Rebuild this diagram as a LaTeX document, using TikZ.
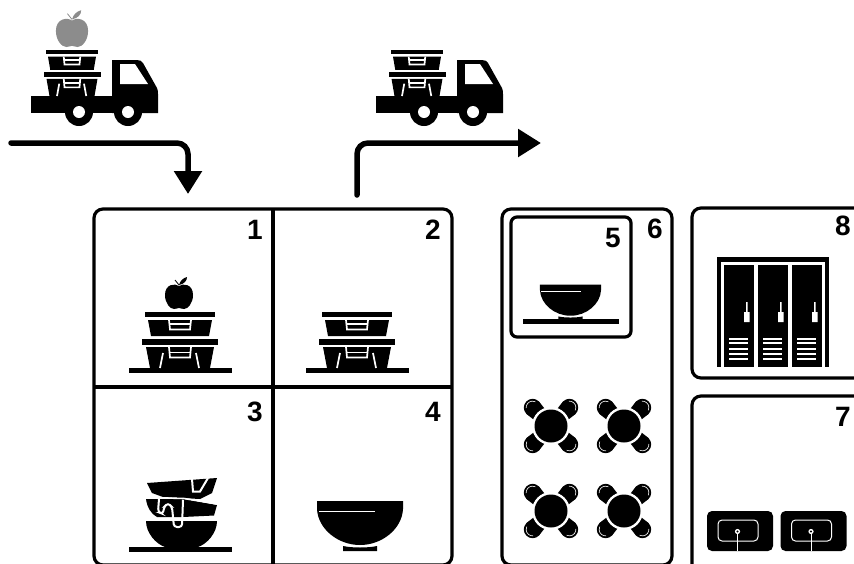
\documentclass[tikz,border=0pt]{standalone}
\usepackage{fontspec}
\setmainfont{Liberation Sans}
\usetikzlibrary{arrows.meta, positioning}

\tikzset{
    pics/apple/.style={code={
        \fill[#1] (0,-23) .. controls (4,-26) and (14,-25) .. (14,-14) .. controls (14,-6) and (9,0) .. (5,0) .. controls (3,0) and (1,-1) .. (0,-1) .. controls (-1,-1) and (-3,0) .. (-5,0) .. controls (-9,0) and (-14,-6) .. (-14,-14) .. controls (-14,-25) and (-4,-26) .. cycle;
        \fill[#1] (0,-24) .. controls (1,-28) and (4,-31) .. (8,-32) .. controls (8,-28) and (5,-25) .. cycle;
        \draw[#1, line width=.8pt] (0,-24) -- (-4,-29);
    }},
    pics/apple/.default=black,
    pics/crates/.style={code={
        \fill (-35,-56) rectangle (35,-51);
        \fill (-32,-48) -- (32,-48) -- (29,-32) -- (-29,-32) -- cycle;
        \draw[trim] (-11,-48) -- (-10,-38.5) -- (10,-38.5) -- (11,-48);
        \draw[trim] (-10,-44) -- (10,-44);
        \fill (-38,-29) rectangle (38,-23.5);
        \fill (-34,-21) -- (34,-21) -- (30,0) -- (-30,0) -- cycle;
        \draw[trim] (-11,-21) -- (-10,-10.5) -- (10,-10.5) -- (11,-21);
        \draw[trim] (-10,-15.5) -- (10,-15.5);
        \draw[trim] (-17,-15) -- (-20,0);
        \draw[trim] (16,-15) -- (19,0);
    }},
    pics/truck/.style={code={
        \fill (0,0) rectangle (81,17);
        \fill (81,17) -- (81,-36) -- (106,-36) .. controls (109,-36) and (111,-35) .. (112,-33) -- (126,-8) .. controls (127,-6) and (127,-4) .. (127,-2) -- (127,17) -- cycle;
        \fill[white] (89,-32) -- (104,-32) -- (117,-12) -- (89,-12) -- cycle;
        \foreach \wheelx in {48,97} {
            \fill (\wheelx,16) circle (14);
            \fill[white] (\wheelx,16) circle (6);
        }
        \pic[xscale=.75, yscale=.82] at (41,0) {crates};
    }},
    pics/bowl/.style={code={
        \fill (-43,-50) -- (43,-50) -- (43,-42) .. controls (42,-22) and (22,-6) .. (0,-6) .. controls (-22,-6) and (-42,-22) .. (-43,-42) -- cycle;
        \fill (-17,-5) .. controls (-8,-3) and (8,-3) .. (17,-5) -- (17,0) -- (-17,0) -- cycle;
        \draw[white, line width=.7pt] (-41,-40) -- (15,-40);
    }},
    pics/dishes/.style={code={
        \fill (-33,-64) -- (37,-69) -- (32,-54) -- (20,-48) -- (-17,-50) -- (-28,-54) -- cycle;
        \draw[trim, line width=2pt] (12,-68) -- (13,-55.5) -- (20,-55.5) -- (28,-69);
        \fill (-34,-48) -- (4,-48) -- (37,-42) -- (34,-31.5) -- (3,-30) -- (-23,-30) .. controls (-29,-33) and (-33,-40) .. cycle;
        \draw[trim, line width=1.6pt] (-30,-49.5) -- (4,-48.5) -- (37,-43);
        \fill (-34,-26) -- (37,-26) .. controls (37,-14) and (27,-3) .. (18,0) -- (-15,0) .. controls (-24,-3) and (-34,-14) .. cycle;
        \draw[trim, line width=2pt, rounded corners=3pt] (-21,-48) -- (-22,-35) -- (-17,-33) -- (-16,-40) -- (-12,-44) -- (-8,-40) -- (-6,-20) -- (2,-20) -- (3,-47);
    }},
    pics/dining/.style={code={
        \foreach \chairang in {45,135,225,315} {
            \fill[rotate=\chairang] (10,-7) -- (26,-8.8) -- (26,8.8) -- (10,7) -- cycle;
            \fill[rotate=\chairang] (26,0) circle (8.8);
            \draw[white, line width=.6pt, rotate=\chairang] (26,0) ++(-50:6.5) arc (-50:70:6.5);
        }
        \fill[white] (0,0) circle (19);
        \fill (0,0) circle (16.5);
    }},
    pics/locker/.style={code={
        \fill (0,0) rectangle (29.5,102);
        \fill[white] (22,37) rectangle (23.5,47) (20,47) rectangle (25.5,57);
        \foreach \venty in {72.5,77,82.5,87.5,92.5} {
            \fill[white] (5,\venty) rectangle (24,\venty+2.2);
        }
    }},
    pics/sink/.style={code={
        \fill[rounded corners=5pt] (0,0) rectangle (66,40);
        \draw[white, line width=1pt, rounded corners=4pt] (11,9) rectangle (51,30);
        \draw[white, line width=1pt] (30.5,23) -- (30.5,40);
        \fill[white] (30.5,20.5) circle (2.6);
        \fill (30.5,20.5) circle (1.2);
    }}
}

\begin{document}
\begin{tikzpicture}[
        x=1pt, y=-1pt,
        room/.style={rectangle, draw, rounded corners=9pt, line width=3.2pt, inner sep=0pt, outer sep=0pt},
        num/.style={font=\bfseries\fontsize{28}{28}\selectfont, inner sep=0pt},
        trim/.style={white, line width=1.7pt},
        flow/.style={line width=5.5pt, rounded corners=11pt, line cap=round, -{Triangle[length=23pt, width=27pt]}}
    ]
        \clip (0,0) rectangle (854,563);

        \node[room, anchor=north west, minimum width=358pt, minimum height=356pt] (kitchen) at (94,209) {};
        \node[room, minimum width=170pt, minimum height=356pt, right=50pt of kitchen.north east, anchor=north west] (dining) {};
        \node[room, anchor=north west, minimum width=120pt, minimum height=120pt, rounded corners=6pt] (serve) at (511,217) {};
        \node[room, anchor=north west, minimum width=180pt, minimum height=170pt] (lockers) at (692,208) {};
        \node[room, minimum width=180pt, minimum height=180pt, below=18pt of lockers] (sinks) {};
        \draw[line width=3.2pt] (kitchen.north) -- (kitchen.south);
        \draw[line width=3.2pt] (kitchen.west) -- (kitchen.east);

        \node[num] (n1) at (255,230) {1};
        \node[num] (n2) at (433,230) {2};
        \node[num] (n3) at (255,412) {3};
        \node[num] (n4) at (433,412) {4};
        \node[num] (n5) at (613,238) {5};
        \node[num] (n6) at (655,229) {6};
        \node[num] (n8) at (843,226) {8};
        \node[num] (n7) at (843,417) {7};

        \coordinate (inbound) at (11,143);
        \coordinate (intip) at (188,194);
        \coordinate (outstart) at (357,195);
        \coordinate (outtip) at (541,143);
        \draw[flow] (inbound) -| (intip);
        \draw[flow] (outstart) |- (outtip);

        \pic at (31,96) {truck};
        \pic[scale=1.15] at (72,47) {apple={black!45}};
        \pic at (376,96) {truck};

        \fill (129,368) rectangle (232,373);
        \pic at (180,368) {crates};
        \pic at (179,309) {apple};
        \fill (306,368) rectangle (409,373);
        \pic at (357,368) {crates};
        \fill (129,547) rectangle (232,551.5);
        \pic at (180,547) {dishes};
        \pic at (360,551) {bowl};
        \fill (523,319) rectangle (619,324);
        \pic[scale=.71] at (570.5,320) {bowl};

        \pic at (551,426) {dining};
        \pic at (624,426) {dining};
        \pic at (551,511) {dining};
        \pic at (624,511) {dining};

        \fill (717,257) rectangle (829,262);
        \fill (717,262) rectangle (721,367);
        \fill (825,262) rectangle (829,367);
        \pic at (724,265) {locker};
        \pic at (758,265) {locker};
        \pic at (792,265) {locker};

        \pic at (707,511) {sink};
        \pic at (780.5,511) {sink};
    \end{tikzpicture}
\end{document}
